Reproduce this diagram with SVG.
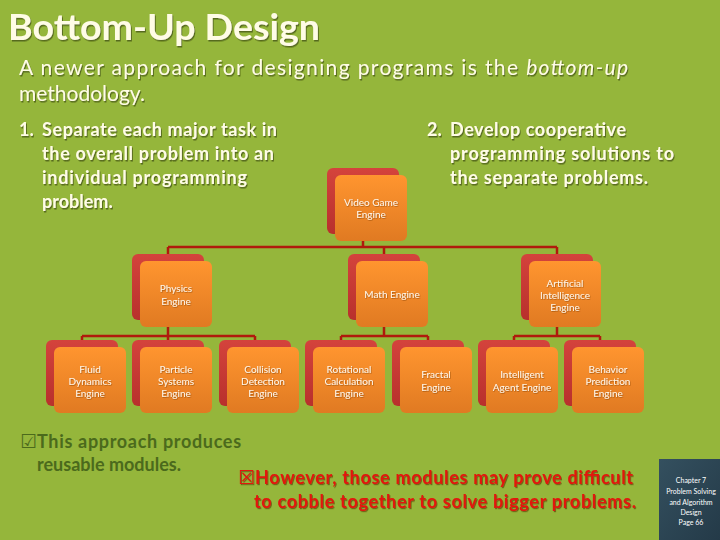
<svg xmlns="http://www.w3.org/2000/svg" width="720" height="540" viewBox="0 0 720 540">
<defs>
<linearGradient id="gBack" x1="0" y1="0" x2="0" y2="1"><stop offset="0" stop-color="#D4433C"/><stop offset="1" stop-color="#B8302C"/></linearGradient>
<linearGradient id="gFront" x1="0" y1="0" x2="0" y2="1"><stop offset="0" stop-color="#FF952F"/><stop offset="1" stop-color="#E07A22"/></linearGradient>
<linearGradient id="gChap" x1="0" y1="0" x2="1" y2="1"><stop offset="0" stop-color="#34505F"/><stop offset="1" stop-color="#243A48"/></linearGradient>
<filter id="sh" x="-5%" y="-20%" width="110%" height="140%"><feDropShadow dx="1" dy="1.5" stdDeviation="0.6" flood-color="#3A4A10" flood-opacity="0.7"/></filter>
<filter id="shs" x="-5%" y="-20%" width="110%" height="140%"><feDropShadow dx="0.6" dy="0.8" stdDeviation="0.4" flood-color="#7A3A00" flood-opacity="0.6"/></filter>
<filter id="shr" x="-5%" y="-20%" width="110%" height="140%"><feDropShadow dx="1" dy="1.2" stdDeviation="0.5" flood-color="#5A2A00" flood-opacity="0.6"/></filter>
</defs>
<style>
.back{fill:url(#gBack)}
.front{fill:url(#gFront)}
.bt{font-family:Lato,"Open Sans","Liberation Sans",sans-serif;font-size:10px;fill:#FFF6E8;text-anchor:middle;filter:url(#shs)}
.con{fill:none;stroke:#B01A0C;stroke-width:2.5}
.head{font-family:Lato,"Open Sans","Liberation Sans",sans-serif;fill:#FFFCE6;filter:url(#sh)}
.pt{font-family:Lato,"Open Sans","Liberation Sans",sans-serif;font-size:18px;font-weight:bold;fill:#FFFCE6;filter:url(#sh)}
.good{font-family:Lato,"Open Sans","Liberation Sans",sans-serif;font-size:18px;font-weight:bold;fill:#4B6A1C}
.bad{font-family:Lato,"Open Sans","Liberation Sans",sans-serif;font-size:18px;font-weight:bold;fill:#E2160A;filter:url(#shr)}
.sym{font-family:"DejaVu Sans",sans-serif;font-weight:bold}
.ch{font-family:Lato,"Open Sans","Liberation Sans",sans-serif;font-size:7px;fill:#FFFFFF;text-anchor:middle}
</style>
<rect x="0" y="0" width="720" height="540" fill="#95B63B"/>

<text class="head" x="8" y="40" font-size="36" font-weight="bold" textLength="312" lengthAdjust="spacingAndGlyphs">Bottom-Up Design</text>
<text class="head" x="19" y="75" font-size="21" textLength="609" lengthAdjust="spacing">A newer approach for designing programs is the <tspan font-style="italic">bottom-up</tspan></text>
<text class="head" x="19" y="101" font-size="21">methodology.</text>

<g id="point1">
<text class="pt" x="19" y="136">1.</text>
<text class="pt" x="42" y="136" textLength="235" lengthAdjust="spacing">Separate each major task in</text>
<text class="pt" x="42" y="160" textLength="232" lengthAdjust="spacing">the overall problem into an</text>
<text class="pt" x="42" y="184" textLength="205" lengthAdjust="spacing">individual programming</text>
<text class="pt" x="42" y="208">problem.</text>
</g>
<g id="point2">
<text class="pt" x="427" y="136">2.</text>
<text class="pt" x="450" y="136" textLength="176" lengthAdjust="spacing">Develop cooperative</text>
<text class="pt" x="450" y="160" textLength="224" lengthAdjust="spacing">programming solutions to</text>
<text class="pt" x="450" y="184" textLength="198" lengthAdjust="spacing">the separate problems.</text>
</g>

<g id="connectors">
<path class="con" d="M363 234V247M168 247H557M168 247V254M384 247V254M557 247V254"/>
<path class="con" d="M168 320V336M82 336H255M82 336V340M168 336V340M255 336V340"/>
<path class="con" d="M384 320V336M341 336H428M341 336V340M428 336V340"/>
<path class="con" d="M557 320V336M514 336H600M514 336V340M600 336V340"/>
</g>

<g id="video">
<rect class="back" x="327" y="168" width="72" height="66" rx="6"/>
<rect class="front" x="335" y="175" width="72" height="66" rx="6"/>
<text class="bt" x="371" y="206">Video Game</text>
<text class="bt" x="371" y="218">Engine</text>
</g>

<g id="physics">
<rect class="back" x="132" y="254" width="72" height="66" rx="6"/>
<rect class="front" x="140" y="261" width="72" height="66" rx="6"/>
<text class="bt" x="176" y="292">Physics</text>
<text class="bt" x="176" y="305">Engine</text>
</g>
<g id="math">
<rect class="back" x="348" y="254" width="72" height="66" rx="6"/>
<rect class="front" x="356" y="261" width="72" height="66" rx="6"/>
<text class="bt" x="392" y="298">Math Engine</text>
</g>
<g id="ai">
<rect class="back" x="521" y="254" width="72" height="66" rx="6"/>
<rect class="front" x="529" y="261" width="72" height="66" rx="6"/>
<text class="bt" x="565" y="287">Artificial</text>
<text class="bt" x="565" y="299">Intelligence</text>
<text class="bt" x="565" y="311">Engine</text>
</g>

<g id="fluid">
<rect class="back" x="46" y="340" width="72" height="66" rx="6"/>
<rect class="front" x="54" y="347" width="72" height="66" rx="6"/>
<text class="bt" x="90" y="373">Fluid</text>
<text class="bt" x="90" y="385">Dynamics</text>
<text class="bt" x="90" y="397">Engine</text>
</g>
<g id="particle">
<rect class="back" x="132" y="340" width="72" height="66" rx="6"/>
<rect class="front" x="140" y="347" width="72" height="66" rx="6"/>
<text class="bt" x="176" y="373">Particle</text>
<text class="bt" x="176" y="385">Systems</text>
<text class="bt" x="176" y="397">Engine</text>
</g>
<g id="collision">
<rect class="back" x="219" y="340" width="72" height="66" rx="6"/>
<rect class="front" x="227" y="347" width="72" height="66" rx="6"/>
<text class="bt" x="263" y="373">Collision</text>
<text class="bt" x="263" y="385">Detection</text>
<text class="bt" x="263" y="397">Engine</text>
</g>
<g id="rotational">
<rect class="back" x="305" y="340" width="72" height="66" rx="6"/>
<rect class="front" x="313" y="347" width="72" height="66" rx="6"/>
<text class="bt" x="349" y="373">Rotational</text>
<text class="bt" x="349" y="385">Calculation</text>
<text class="bt" x="349" y="397">Engine</text>
</g>
<g id="fractal">
<rect class="back" x="392" y="340" width="72" height="66" rx="6"/>
<rect class="front" x="400" y="347" width="72" height="66" rx="6"/>
<text class="bt" x="436" y="378">Fractal</text>
<text class="bt" x="436" y="391">Engine</text>
</g>
<g id="intelligent">
<rect class="back" x="478" y="340" width="72" height="66" rx="6"/>
<rect class="front" x="486" y="347" width="72" height="66" rx="6"/>
<text class="bt" x="522" y="378">Intelligent</text>
<text class="bt" x="522" y="391">Agent Engine</text>
</g>
<g id="behavior">
<rect class="back" x="564" y="340" width="72" height="66" rx="6"/>
<rect class="front" x="572" y="347" width="72" height="66" rx="6"/>
<text class="bt" x="608" y="373">Behavior</text>
<text class="bt" x="608" y="385">Prediction</text>
<text class="bt" x="608" y="397">Engine</text>
</g>

<g id="pro">
<text class="good" x="20" y="448"><tspan class="sym" font-size="19">☑</tspan><tspan textLength="204" lengthAdjust="spacing">This approach produces</tspan></text>
<text class="good" x="37" y="471">reusable modules.</text>
</g>
<g id="con">
<text class="bad" x="238" y="484"><tspan class="sym" font-size="19">☒</tspan><tspan textLength="378" lengthAdjust="spacing">However, those modules may prove difficult</tspan></text>
<text class="bad" x="254" y="508" textLength="382" lengthAdjust="spacing">to cobble together to solve bigger problems.</text>
</g>

<g id="chapter">
<rect x="659" y="459" width="61" height="81" fill="url(#gChap)"/>
<text class="ch" x="691" y="483">Chapter 7</text>
<text class="ch" x="691" y="494">Problem Solving</text>
<text class="ch" x="691" y="505">and Algorithm</text>
<text class="ch" x="691" y="515">Design</text>
<text class="ch" x="691" y="525">Page 66</text>
</g>
</svg>
